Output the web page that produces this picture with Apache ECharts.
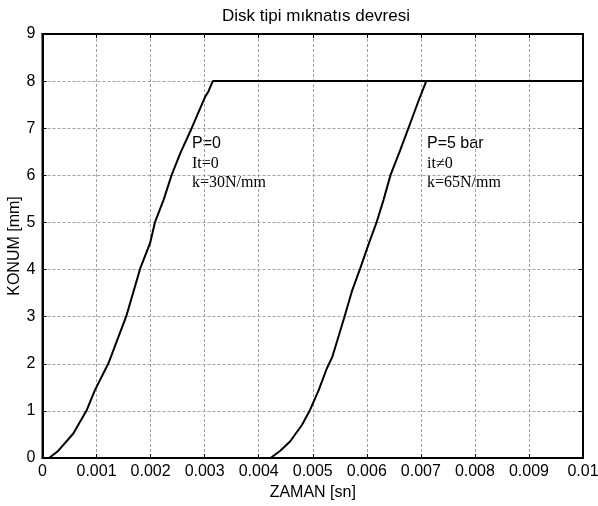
<!DOCTYPE html>
<html>
<head>
<meta charset="utf-8">
<script src="https://cdn.jsdelivr.net/npm/echarts@6/dist/echarts.min.js"></script>
<style>
  html, body { margin: 0; padding: 0; background: #fff; }
  #chart { width: 598px; height: 506px; }
</style>
</head>
<body>
<div id="chart"></div>
<script>
// P=0 egrisi (zaman [sn], konum [mm])
const time1 = [0.00012, 0.00029, 0.00057, 0.00082, 0.00097, 0.00122, 0.00155, 0.00181, 0.00199, 0.00208, 0.00224, 0.00239, 0.00255, 0.00276, 0.00301, 0.00307, 0.00315, 0.01];
const pos1 = [0, 0.15, 0.52, 1.02, 1.44, 2.01, 3.01, 4.03, 4.56, 5.0, 5.48, 6.01, 6.47, 7.0, 7.67, 7.78, 8, 8];

// P=5 bar egrisi
const time2 = [0.00422, 0.0044, 0.00458, 0.0048, 0.00495, 0.00511, 0.00526, 0.00536, 0.00559, 0.00573, 0.00588, 0.00603, 0.00618, 0.00631, 0.00644, 0.00662, 0.00677, 0.00694, 0.0071, 0.01];
const pos2 = [0, 0.155, 0.35, 0.7, 1.02, 1.44, 1.9, 2.14, 3.01, 3.56, 4.03, 4.53, 5.0, 5.48, 6.01, 6.54, 7.0, 7.53, 8, 8];

const xTicks = [0, 0.001, 0.002, 0.003, 0.004, 0.005, 0.006, 0.007, 0.008, 0.009, 0.01];
const yTicks = [0, 1, 2, 3, 4, 5, 6, 7, 8, 9];

const notes1 = ['P=0', 'It=0', 'k=30N/mm'];
const notes2 = ['P=5 bar', 'it\u22600', 'k=65N/mm'];

const sans = 'Liberation Sans, Arial, sans-serif';
const serif = 'Liberation Serif, Times New Roman, serif';

const chart = echarts.init(document.getElementById('chart'));

const gridLine = { show: true, lineStyle: { color: '#a0a0a0', type: [3, 2], width: 1 } };
const boxLine = { show: true, onZero: false, lineStyle: { color: '#000', width: 2 } };
const inTick = { show: true, inside: true, length: 4, lineStyle: { color: '#000', width: 1 } };

function noteText(lines, left) {
  return lines.map((s, i) => ({
    type: 'text',
    left: left,
    top: [136, 156, 175][i],
    style: {
      text: s,
      fill: '#000',
      font: '16px ' + (i === 0 ? sans : serif)
    }
  }));
}

// y ekseni basligi (dikey)
const yTitle = {
  type: 'text',
  x: 15,
  y: 246,
  rotation: Math.PI / 2,
  style: {
    text: 'KONUM [mm]',
    fill: '#000',
    font: '16px ' + sans,
    align: 'center',
    verticalAlign: 'middle'
  }
};

const option = {
  animation: false,
  backgroundColor: '#fff',
  title: {
    text: 'Disk tipi m\u0131knat\u0131s devresi',
    left: 311,
    top: 3,
    textAlign: 'center',
    textStyle: { fontFamily: sans, fontSize: 17, fontWeight: 'normal', color: '#000' }
  },
  grid: {
    left: 42.5, right: 15, top: 34, bottom: 48,
    outerBoundsMode: 'none', containLabel: false,
    show: true, borderColor: '#000', borderWidth: 2
  },
  xAxis: [
    {
      type: 'value',
      min: xTicks[0],
      max: xTicks[xTicks.length - 1],
      interval: 0.001,
      name: 'ZAMAN [sn]',
      nameLocation: 'middle',
      nameGap: 25,
      nameTextStyle: { fontFamily: sans, fontSize: 16, color: '#000' },
      axisLine: boxLine,
      axisTick: inTick,
      splitLine: gridLine,
      axisLabel: {
        margin: 6,
        fontFamily: sans,
        fontSize: 16,
        color: '#000',
        formatter: v => String(parseFloat(v.toFixed(3)))
      }
    },
    {
      type: 'value',
      position: 'top',
      min: xTicks[0],
      max: xTicks[xTicks.length - 1],
      interval: 0.001,
      axisLine: boxLine,
      axisTick: inTick,
      splitLine: { show: false },
      axisLabel: { show: false }
    }
  ],
  yAxis: [
    {
      type: 'value',
      min: yTicks[0],
      max: yTicks[yTicks.length - 1],
      interval: 1,
      axisLine: boxLine,
      axisTick: inTick,
      splitLine: gridLine,
      axisLabel: { margin: 7, fontFamily: sans, fontSize: 16, color: '#000' }
    },
    {
      type: 'value',
      position: 'right',
      min: yTicks[0],
      max: yTicks[yTicks.length - 1],
      interval: 1,
      axisLine: boxLine,
      axisTick: inTick,
      splitLine: { show: false },
      axisLabel: { show: false }
    }
  ],
  series: [
    {
      name: 'P=0',
      type: 'line',
      showSymbol: false,
      lineStyle: { color: '#000', width: 2 },
      data: time1.map((t, i) => [t, pos1[i]])
    },
    {
      name: 'P=5 bar',
      type: 'line',
      showSymbol: false,
      lineStyle: { color: '#000', width: 2 },
      data: time2.map((t, i) => [t, pos2[i]])
    }
  ],
  graphic: noteText(notes1, 192).concat(noteText(notes2, 427), [yTitle])
};

chart.setOption(option);
</script>
</body>
</html>
